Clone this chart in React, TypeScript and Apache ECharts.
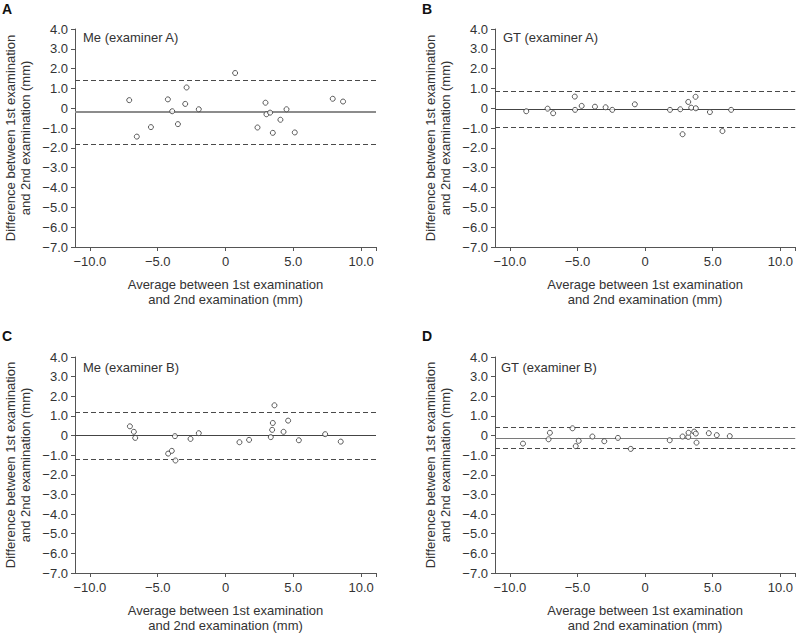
import React, { useEffect, useRef } from "react";
import * as echarts from "echarts";

const panelLetters = ["A", "B", "C", "D"];
const panelTitles = ["Me (examiner A)", "GT (examiner A)", "Me (examiner B)", "GT (examiner B)"];

const xTickValues = [-10, -5, 0, 5, 10];

// Panel A: Me (examiner A)
const meAX = [-7.1, -6.54, -5.5, -4.25, -3.93, -3.51, -2.97, -2.87, -1.97, 0.71, 2.36, 2.95, 3.02, 3.29, 3.49, 4.05, 4.5, 5.11, 7.91, 8.67];
const meAY = [0.41, -1.43, -0.95, 0.45, -0.15, -0.8, 0.22, 1.05, -0.05, 1.78, -0.97, 0.28, -0.3, -0.22, -1.24, -0.58, -0.05, -1.22, 0.48, 0.34];
// Panel B: GT (examiner A)
const gtAX = [-8.79, -7.21, -6.8, -5.2, -5.18, -4.69, -3.71, -2.92, -2.43, -0.76, 1.84, 2.6, 2.77, 3.19, 3.41, 3.73, 3.75, 4.79, 5.72, 6.36];
const gtAY = [-0.15, -0.02, -0.25, 0.59, -0.08, 0.12, 0.08, 0.05, -0.08, 0.2, -0.08, -0.05, -1.31, 0.32, 0.03, 0.58, 0.0, -0.19, -1.15, -0.08];
// Panel C: Me (examiner B)
const meBX = [-7.05, -6.76, -6.66, -4.23, -3.96, -3.73, -3.69, -2.58, -1.97, 1.03, 1.74, 3.34, 3.44, 3.49, 3.61, 4.28, 4.62, 5.41, 7.35, 8.5];
const meBY = [0.47, 0.19, -0.12, -0.92, -0.78, -0.03, -1.27, -0.17, 0.12, -0.34, -0.22, -0.08, 0.29, 0.64, 1.54, 0.19, 0.76, -0.24, 0.07, -0.31];
// Panel D: GT (examiner B)
const gtBX = [-9.03, -7.14, -7.04, -5.37, -5.13, -4.91, -3.9, -3.02, -2.01, -1.06, 1.82, 2.77, 3.19, 3.21, 3.63, 3.75, 3.8, 4.71, 5.3, 6.26];
const gtBY = [-0.41, -0.19, 0.14, 0.37, -0.54, -0.27, -0.05, -0.29, -0.12, -0.68, -0.24, -0.05, -0.07, 0.14, 0.2, 0.1, -0.36, 0.12, 0.02, -0.03];

const meanDiff = [-0.2, -0.07, 0.0, -0.12];
const upperLimit = [1.41, 0.84, 1.2, 0.41];
const lowerLimit = [-1.8, -0.98, -1.22, -0.63];

const panelXs = [meAX, gtAX, meBX, gtBX];
const panelYs = [meAY, gtAY, meBY, gtBY];

const meanColors = ["#8c8c8c", "#444444", "#444444", "#7a7a7a"];
const meanWidths = [1.8, 1, 1, 1.2];

const gridBoxes = [
  { left: 75, top: 29, width: 301, height: 218 },
  { left: 495, top: 29, width: 301, height: 218 },
  { left: 75, top: 357, width: 301, height: 216 },
  { left: 495, top: 357, width: 301, height: 216 },
];

const FONT = "Liberation Sans, Arial, Helvetica, sans-serif";
const TEXT = "#333333";
const AXIS = "#555555";

const fmt = (v: number) => {
  if (Math.abs(v) < 1e-9) return "0";
  const s = Math.abs(v).toFixed(1);
  return v < 0 ? "\u2212" + s : s;
};

export default function App() {
  const ref = useRef<HTMLDivElement>(null);
  useEffect(() => {
    document.body.style.margin = "0";
    if (!ref.current) return;
    const chart = echarts.init(ref.current, undefined, { renderer: "svg" });

    const grids = gridBoxes.map((g) => ({ ...g, containLabel: false }));
    const xAxes = gridBoxes.map((_, i) => ({
      type: "value",
      gridIndex: i,
      min: -11.1,
      max: 11.1,
      name: "Average between 1st examination\nand 2nd examination (mm)",
      nameLocation: "middle",
      nameGap: 30,
      nameTextStyle: { color: TEXT, fontSize: 13, fontFamily: FONT, lineHeight: 15 },
      axisLine: { show: true, onZero: false, lineStyle: { color: AXIS, width: 1 } },
      axisTick: { show: true, length: 4, customValues: [...xTickValues, 11.1], lineStyle: { color: AXIS } },
      axisLabel: {
        customValues: xTickValues,
        formatter: (v: number) => fmt(v),
        color: TEXT,
        fontSize: 13,
        fontFamily: FONT,
        margin: 8,
      },
      splitLine: { show: false },
    }));
    const yAxes = gridBoxes.map((_, i) => ({
      type: "value",
      gridIndex: i,
      min: -7,
      max: 4,
      interval: 1,
      name: "Difference between 1st examination\nand 2nd examination (mm)",
      nameLocation: "middle",
      nameGap: 42,
      nameTextStyle: { color: TEXT, fontSize: 13, fontFamily: FONT, lineHeight: 15 },
      axisLine: { show: true, onZero: false, lineStyle: { color: AXIS, width: 1 } },
      axisTick: { show: true, length: 4, lineStyle: { color: AXIS } },
      axisLabel: {
        formatter: (v: number) => fmt(v),
        color: TEXT,
        fontSize: 13,
        fontFamily: FONT,
        margin: 7,
      },
      splitLine: { show: false },
    }));

    const series = panelXs.map((xs, i) => ({
      type: "scatter",
      xAxisIndex: i,
      yAxisIndex: i,
      symbol: "circle",
      symbolSize: 5,
      itemStyle: { color: "#ffffff", borderColor: "#333333", borderWidth: 1 },
      data: xs.map((x, j) => [x, panelYs[i][j]]),
      z: 5,
      markLine: {
        silent: true,
        symbol: ["none", "none"],
        label: { show: false },
        animation: false,
        data: [
          { yAxis: meanDiff[i], lineStyle: { color: meanColors[i], width: meanWidths[i], type: "solid" } },
          { yAxis: upperLimit[i], lineStyle: { color: "#4a4a4a", width: 1, type: [5, 3] } },
          { yAxis: lowerLimit[i], lineStyle: { color: "#4a4a4a", width: 1, type: [5, 3] } },
        ],
      },
    }));

    const letterPos = [
      [2, 2],
      [422, 2],
      [2, 329],
      [422, 329],
    ];
    const titlePos = [
      [83, 37],
      [503, 37],
      [83, 367],
      [501, 367],
    ];
    const graphics: any[] = [];
    panelLetters.forEach((l, i) => {
      graphics.push({
        type: "text",
        left: letterPos[i][0],
        top: letterPos[i][1],
        style: { text: l, fill: "#111", font: `bold 14px ${FONT}` },
      });
      graphics.push({
        type: "text",
        x: titlePos[i][0],
        y: titlePos[i][1],
        style: { text: panelTitles[i], fill: TEXT, font: `13px ${FONT}`, verticalAlign: "middle" },
      });
    });

    chart.setOption({
      animation: false,
      backgroundColor: "#ffffff",
      grid: grids,
      xAxis: xAxes,
      yAxis: yAxes,
      series,
      graphic: graphics,
    } as any);

    return () => chart.dispose();
  }, []);
  return <div ref={ref} style={{ width: 796, height: 635 }} />;
}
